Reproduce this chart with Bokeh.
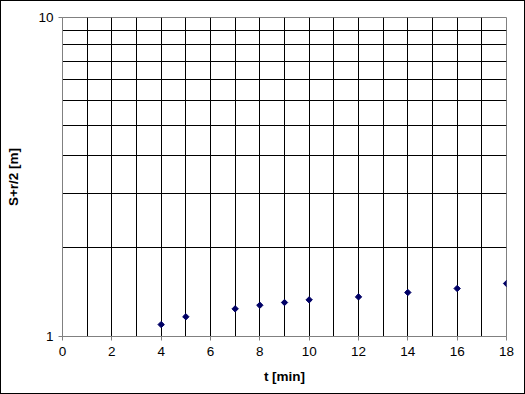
from bokeh.plotting import figure
from bokeh.models import FixedTicker, Range1d
from bokeh.embed import file_html
from bokeh.resources import INLINE
import math

t_min = [4, 5, 7, 8, 9, 10, 12, 14, 16, 18]
s_r2 = [1.09, 1.153, 1.221, 1.253, 1.278, 1.303, 1.331, 1.374, 1.414, 1.466]
x_ticks = [0, 2, 4, 6, 8, 10, 12, 14, 16, 18]
x_grid = list(range(1, 18))
y_ticks = [1, 10]
y_grid = [1.9, 2.8, 3.7, 4.6, 5.5, 6.4, 7.3, 8.2, 9.1]

p = figure(width=525, height=394, y_axis_type="log",
           x_range=Range1d(0, 18), y_range=Range1d(1, 10),
           output_backend="svg", toolbar_location=None,
           min_border_left=61, min_border_right=20,
           min_border_top=16, min_border_bottom=59)
p.styles = {"border": "1px solid black", "box-sizing": "border-box"}
p.background_fill_color = "white"
p.border_fill_color = "white"
p.outline_line_color = "#808080"
p.outline_line_width = 1

p.xgrid.ticker = FixedTicker(ticks=x_grid)
p.ygrid.ticker = FixedTicker(ticks=y_grid)
for g in (p.xgrid, p.ygrid):
    g.grid_line_color = "black"
    g.grid_line_width = 1

p.xaxis.ticker = FixedTicker(ticks=x_ticks)
p.yaxis.ticker = FixedTicker(ticks=y_ticks, minor_ticks=[])
p.yaxis.major_label_overrides = {1: "1", 10: "10"}

for ax in (p.xaxis, p.yaxis):
    ax.axis_line_color = "#808080"
    ax.major_tick_line_color = "#808080"
    ax.major_tick_out = 4
    ax.major_tick_in = 0
    ax.minor_tick_line_color = None
    ax.major_label_text_font = "Liberation Sans"
    ax.major_label_text_font_size = "13.5px"
    ax.major_label_text_color = "black"
    ax.axis_label_text_font = "Liberation Sans"
    ax.axis_label_text_font_size = "13.5px"
    ax.axis_label_text_font_style = "bold"
    ax.axis_label_text_color = "black"

p.xaxis.major_label_standoff = 6
p.yaxis.major_label_standoff = 5
p.xaxis.axis_label = "t [min]"
p.yaxis.axis_label = "S+r/2 [m]"
p.xaxis.axis_label_standoff = 10
p.yaxis.axis_label_standoff = 14

p.scatter(t_min, s_r2, marker="square", size=4.5, angle=math.pi / 4,
          fill_color="#000066", line_color="#000066")

open("out.html", "w").write(file_html(p, INLINE))
